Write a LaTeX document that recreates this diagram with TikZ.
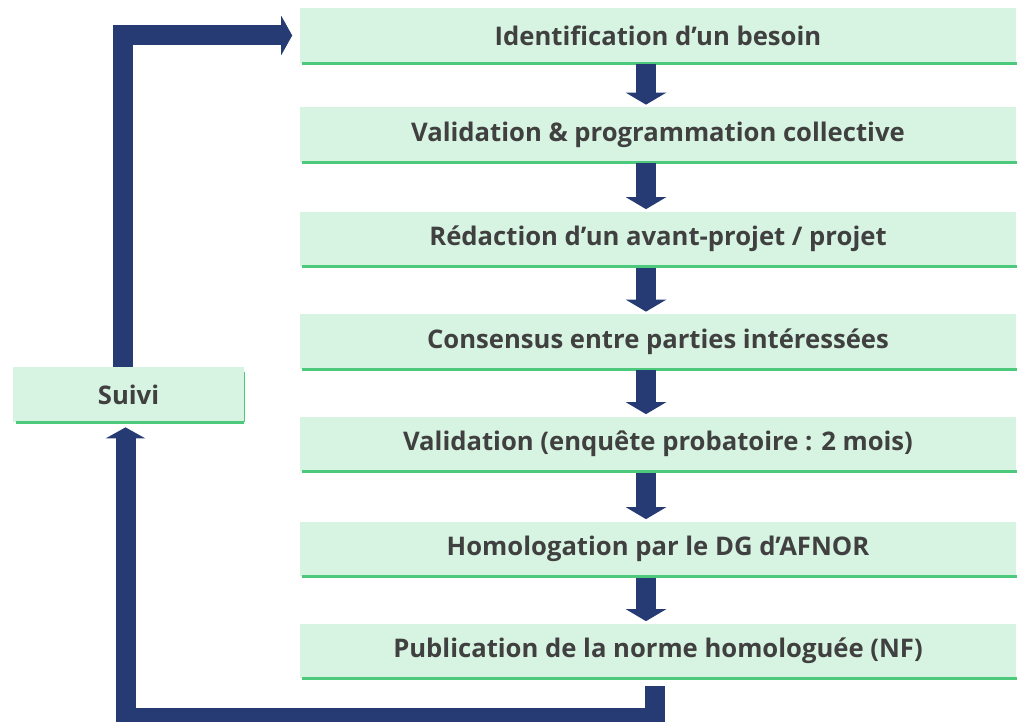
\documentclass[tikz,border=0pt]{standalone}
\usepackage{fontspec}
\setmainfont{Open Sans}
\usepackage{xcolor}
\usetikzlibrary{arrows.meta}
\definecolor{navy}{HTML}{263B73}
\definecolor{fond}{HTML}{D7F4E2}
\definecolor{vert}{HTML}{4CC97A}
\definecolor{texte}{HTML}{404040}
\tikzset{
  etape/.style={fill=fond, text=texte, font=\fontsize{14.6}{17}\selectfont\bfseries,
    minimum width=14.34cm, minimum height=1.1cm, inner sep=0pt,
    append after command={([xshift=0.06cm]\tikzlastnode.south west) edge[ligne] (\tikzlastnode.south east)}},
  ligne/.style={draw=vert, line width=0.06cm},
  fleche/.style={draw=navy, line width=0.4cm, -{Triangle[width=0.8cm,length=0.24cm]}},
  boucle/.style={draw=navy, line width=0.4cm, -{Triangle[width=0.78cm,length=0.22cm]}}
}

\begin{document}
\begin{tikzpicture}[x=0.02cm,y=-0.02cm]
  \useasboundingbox (0,0) rectangle (1017,722);
  \node[etape] (b1) at (658,35.5) {Identification d’un besoin};
  \node[etape] (b2) at (658,134.5) {Validation \& programmation collective};
  \node[etape] (b3) at (658,239) {Rédaction d’un avant-projet / projet};
  \node[etape] (b4) at (658,341.5) {Consensus entre parties intéressées};
  \node[etape] (b5) at (658,444) {Validation (enquête probatoire : 2 mois)};
  \node[etape] (b6) at (658,549) {Homologation par le DG d’AFNOR};
  \node[etape] (b7) at (658,651) {Publication de la norme homologuée (NF)};
  \node[etape, minimum width=4.62cm] (suivi) at (128.5,394.5) {Suivi};
  \draw[ligne, line width=0.03cm] ([yshift=-0.1cm]suivi.north east) -- (suivi.south east);
  \draw[fleche, shorten <=0.02cm, shorten >=0.04cm] ([xshift=-0.24cm]b1.south) -- ([xshift=-0.24cm]b2.north);
  \draw[fleche, shorten <=0.02cm, shorten >=0.04cm] ([xshift=-0.24cm]b2.south) -- ([xshift=-0.24cm]b3.north);
  \draw[fleche, shorten <=0.02cm, shorten >=0.04cm] ([xshift=-0.24cm]b3.south) -- ([xshift=-0.24cm]b4.north);
  \draw[fleche, shorten <=0.02cm, shorten >=0.04cm] ([xshift=-0.24cm]b4.south) -- ([xshift=-0.24cm]b5.north);
  \draw[fleche, shorten <=0.02cm, shorten >=0.04cm] ([xshift=-0.24cm]b5.south) -- ([xshift=-0.24cm]b6.north);
  \draw[fleche, shorten <=0.02cm, shorten >=0.04cm] ([xshift=-0.24cm]b6.south) -- ([xshift=-0.24cm]b7.north);
  % retour vers le suivi puis vers le besoin
  \draw[boucle, shorten <=0.14cm, shorten >=0.1cm] ([xshift=-0.06cm]b7.south) -- ++(0,39) -| ([xshift=-0.06cm]suivi.south);
  \draw[boucle, shorten >=0.14cm] ([xshift=-0.12cm]suivi.north) |- (b1.west);
\end{tikzpicture}
\end{document}
